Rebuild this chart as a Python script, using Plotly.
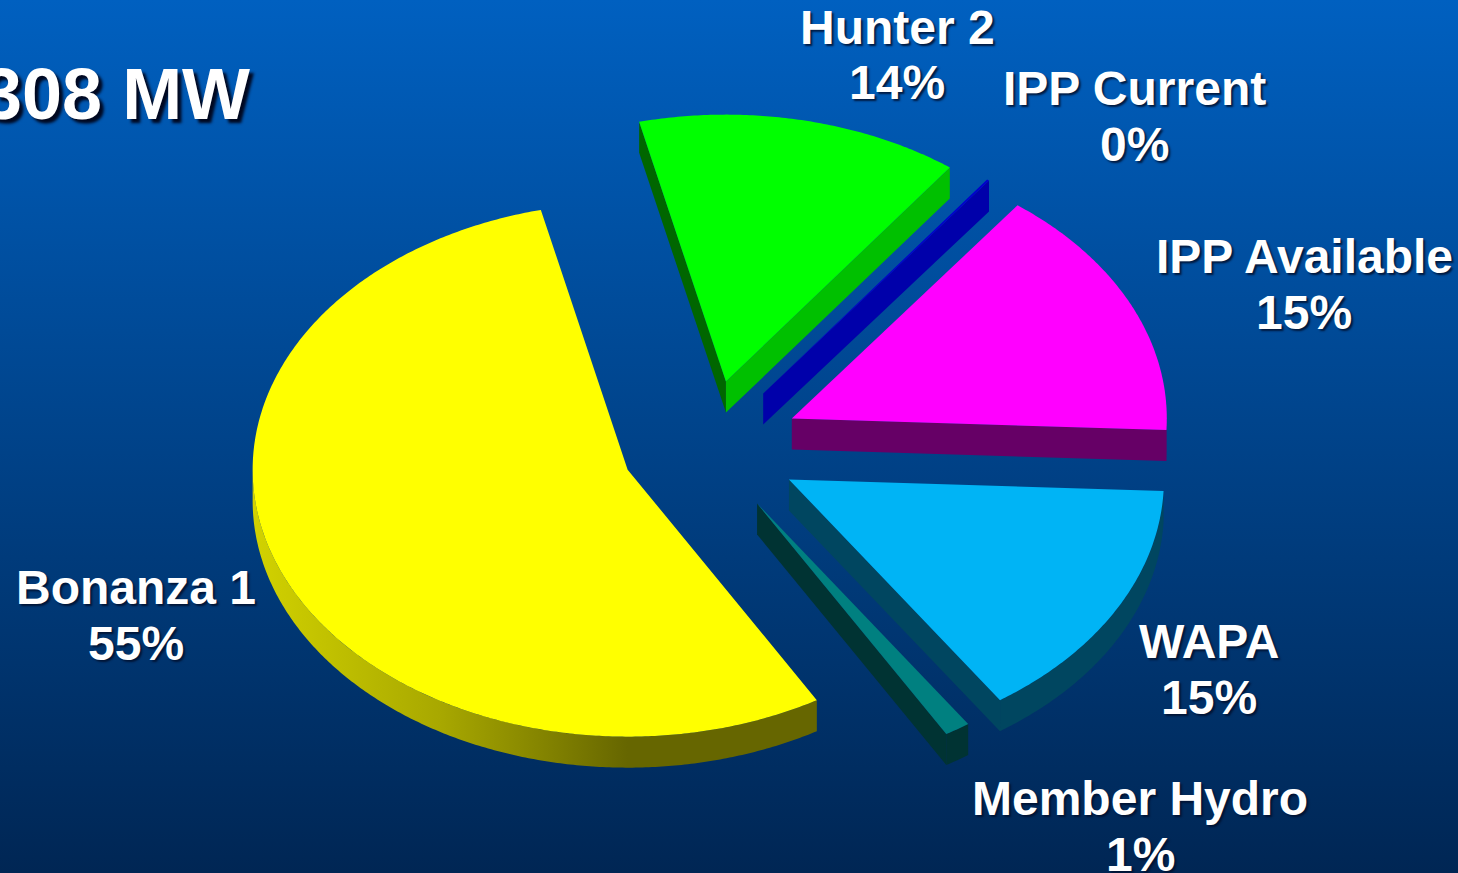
import numpy as np
import plotly.graph_objects as go

# Data
labels = ["Bonanza 1", "Hunter 2", "IPP Current", "IPP Available", "WAPA", "Member Hydro"]
shown_pct = ["55%", "14%", "0%", "15%", "15%", "1%"]
values = [54.7, 13.9, 0.1, 15.4, 14.8, 1.1]
headline = "308 MW"

# Styles
top_colors = ["#FFFF00", "#00FF00", "#0000CC", "#FF00FF", "#00B4F5", "#008080"]
start_wall = [None, "#006600", None, None, None, None]
end_wall = [None, "#00C000", "#0000AA", "#660066", "#004660", "#003333"]
rim_colors = ["#666600", "#006600", "#0000AA", "#660066", "#004660", "#003333"]
explode = [0.228, 0.25, 0.25, 0.25, 0.25, 0.25]

# Layout geometry of the tilted pie (pixel-scaled axes)
W, H = 1458, 873
CX, CY, RX, RY, DEPTH = 707, 447, 375, 267, 31
START = 149.7
label_pos = [(136, 587, 643), (897, 27, 82), (1134, 88, 144), (1304, 256, 312), (1209, 641, 697), (1140, 798, 854)]


def ell(ax, ay, deg):
    t = np.radians(deg)
    return ax + RX * np.sin(t), ay - RY * np.cos(t)


def poly(fig, xs, ys, color=None, name="", gradient=None):
    kw = dict(fillgradient=gradient) if gradient else dict(fillcolor=color)
    fig.add_trace(go.Scatter(x=[float(v) for v in xs], y=[float(v) for v in ys], mode="lines", fill="toself",
                             line=dict(width=0, simplify=False), name=name, hoverinfo="name", **kw))


fig = go.Figure()
# background gradient
poly(fig, [0, W, W, 0, 0], [0, 0, H, H, 0], name="background",
     gradient=dict(type="vertical", colorscale=[[0, "#002654"], [1, "#0060C0"]]))

cum = START
for i, (lab, val) in enumerate(zip(labels, values)):
    a1 = cum
    a2 = cum + val * 3.6
    cum = a2
    mid = np.radians((a1 + a2) / 2)
    ax = CX + explode[i] * RX * np.sin(mid)
    ay = CY - explode[i] * RY * np.cos(mid)
    ts = np.linspace(a1, a2, max(int(a2 - a1) * 2, 2) + 1)
    ex, ey = ell(ax, ay, ts)

    p1 = ell(ax, ay, a1)
    p2 = ell(ax, ay, a2)
    # flat cut walls that face the viewer
    if start_wall[i] and p1[0] < ax:
        poly(fig, [ax, p1[0], p1[0], ax, ax], [ay, p1[1], p1[1] + DEPTH, ay + DEPTH, ay], start_wall[i], lab)
    if end_wall[i] and p2[0] > ax:
        poly(fig, [ax, p2[0], p2[0], ax, ax], [ay, p2[1], p2[1] + DEPTH, ay + DEPTH, ay], end_wall[i], lab)
    # outer rim: only the front half is visible
    turn = 360 if a1 >= 360 else 0
    lo, hi = max(a1 - turn, 90), min(a2 - turn, 270)
    if hi > lo:
        rt = np.linspace(lo, hi, max(int(hi - lo) * 2, 2) + 1)
        ox, oy = ell(ax, ay, rt)
        xs = np.r_[ox, ox[::-1], ox[0]]
        ys = np.r_[oy, oy[::-1] + DEPTH, oy[0]]
        if i == 0:
            stop = (ax - ox.min()) / (ox.max() - ox.min())
            poly(fig, xs, ys, name=lab, gradient=dict(
                type="horizontal",
                colorscale=[[0, "#D2D200"], [stop * 0.5, "#A8A800"], [stop, "#666600"], [1, "#666600"]]))
        else:
            poly(fig, xs, ys, rim_colors[i], lab)
    # top face
    poly(fig, np.r_[ax, ex, ax], np.r_[ay, ey, ay], top_colors[i], lab)

ann = []
shadow = "2px 2px 2px rgba(0,15,45,0.85)"
for lab, pct, (x, y1, y2) in zip(labels, shown_pct, label_pos):
    for txt, y in ((lab, y1), (pct, y2)):
        ann.append(dict(x=x, y=y, text="<b>%s</b>" % txt, showarrow=False, xanchor="center", yanchor="middle",
                        font=dict(family="Liberation Sans", size=48, color="white", shadow=shadow)))
ann.append(dict(x=252, y=94, text="<b>%s</b>" % headline, showarrow=False, xanchor="right", yanchor="middle",
                font=dict(family="Liberation Sans", size=72, color="white", shadow="4px 4px 3px #000820")))

fig.update_layout(
    width=W, height=H, margin=dict(l=0, r=0, t=0, b=0), showlegend=False,
    paper_bgcolor="#003A78", plot_bgcolor="rgba(0,0,0,0)", annotations=ann,
    xaxis=dict(range=[0, W], visible=False, fixedrange=True),
    yaxis=dict(range=[H, 0], visible=False, fixedrange=True),
)
fig.write_html("out.html", config=dict(displayModeBar=False),
               post_script="document.documentElement.style.overflow='hidden';document.body.style.margin='0';")
